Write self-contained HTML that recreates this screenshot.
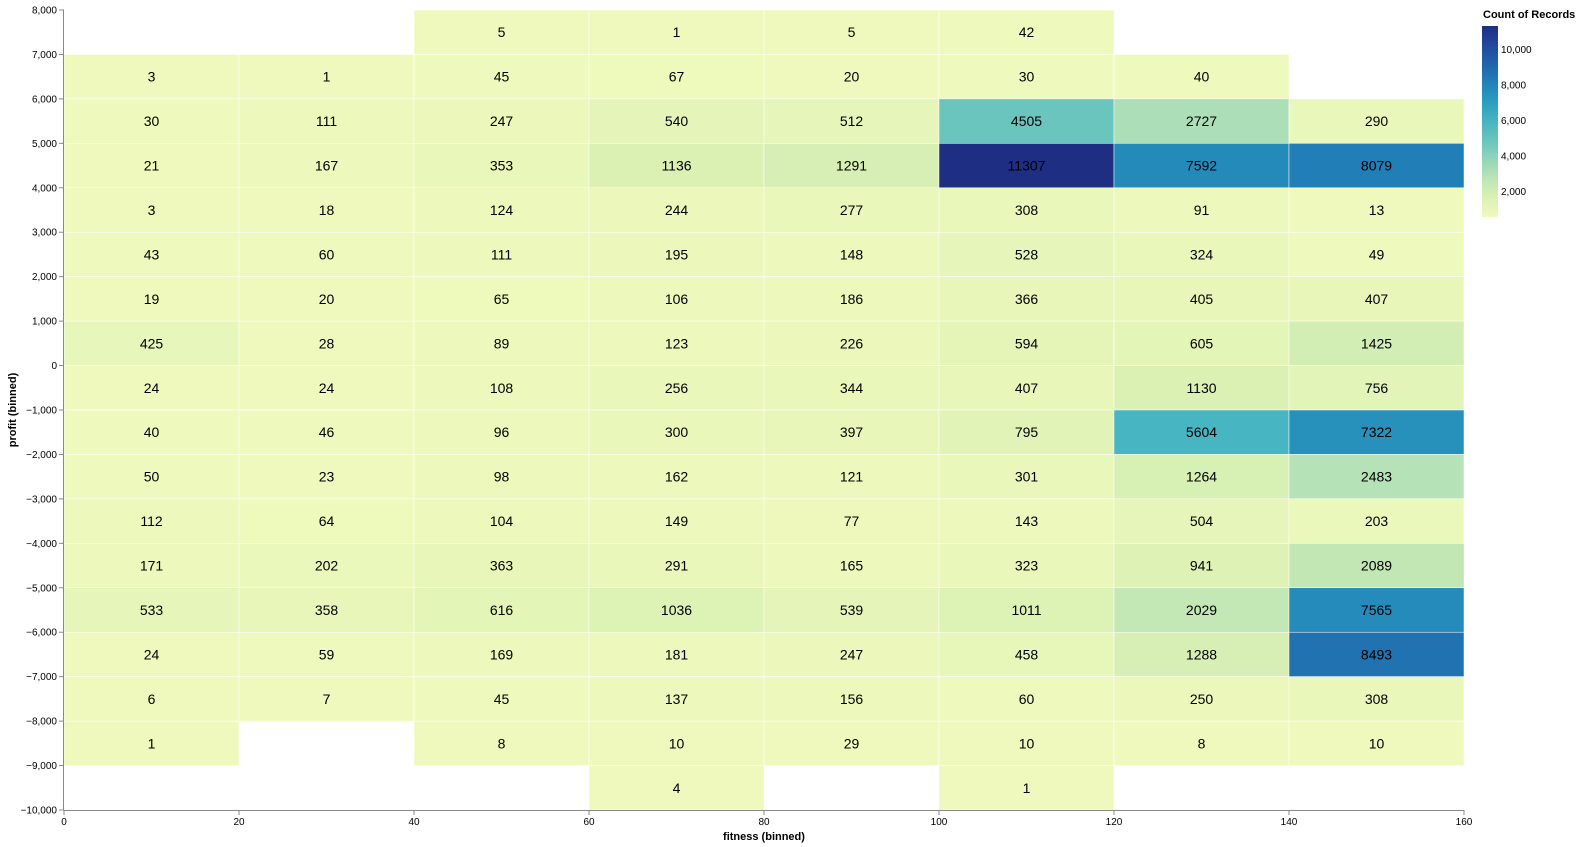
<!DOCTYPE html>
<html><head><meta charset="utf-8"><style>
html,body{margin:0;padding:0;background:#fff;overflow:hidden;width:1580px;height:847px;font-family:"Liberation Sans",sans-serif}
svg{display:block}
svg text{font-family:"Liberation Sans",sans-serif}
</style></head><body>
<svg id="chart" width="1580" height="847">
<defs><linearGradient id="lg" x1="0" y1="1" x2="0" y2="0"></linearGradient></defs>
<g id="cells"></g>
<g id="axes"></g>
<g id="legend"></g>
</svg>
<script>
const xBins = [0,20,40,60,80,100,120,140];
const yBins = [7000,6000,5000,4000,3000,2000,1000,0,-1000,-2000,-3000,-4000,-5000,-6000,-7000,-8000,-9000,-10000];
const counts = [
[null,null,5,1,5,42,null,null],
[3,1,45,67,20,30,40,null],
[30,111,247,540,512,4505,2727,290],
[21,167,353,1136,1291,11307,7592,8079],
[3,18,124,244,277,308,91,13],
[43,60,111,195,148,528,324,49],
[19,20,65,106,186,366,405,407],
[425,28,89,123,226,594,605,1425],
[24,24,108,256,344,407,1130,756],
[40,46,96,300,397,795,5604,7322],
[50,23,98,162,121,301,1264,2483],
[112,64,104,149,77,143,504,203],
[171,202,363,291,165,323,941,2089],
[533,358,616,1036,539,1011,2029,7565],
[24,59,169,181,247,458,1288,8493],
[6,7,45,137,156,60,250,308],
[1,null,8,10,29,10,8,10],
[null,null,null,4,null,1,null,null]
];
const xTicks = [0,20,40,60,80,100,120,140,160];
const yTicks = [8000,7000,6000,5000,4000,3000,2000,1000,0,-1000,-2000,-3000,-4000,-5000,-6000,-7000,-8000,-9000,-10000];
const legendTicks = [2000,4000,6000,8000,10000];

const NS="http://www.w3.org/2000/svg";
const X0=64,X1=1464,Y0=10,Y1=810;
const xs=v=>X0+(v-0)/160*(X1-X0);
const ys=v=>Y0+(8000-v)/18000*(Y1-Y0);
const stops=["#eff9bd","#dbf1b4","#bde5b5","#94d5b9","#69c5be","#45b4c2","#2c9ec0","#2182b8","#2163aa","#23479c","#1d2e83"];
let vals=counts.flat().filter(v=>v!=null);
const cmin=Math.min(...vals),cmax=Math.max(...vals);
function hex(h){return [1,3,5].map(i=>parseInt(h.substr(i,2),16));}
function color(v){let t=(v-cmin)/(cmax-cmin)*(stops.length-1);let i=Math.min(Math.floor(t),stops.length-2);let f=t-i;let a=hex(stops[i]),b=hex(stops[i+1]);return "rgb("+a.map((c,k)=>Math.round(c+(b[k]-c)*f)).join(",")+")";}
function el(tag,attrs,parent,txt){const e=document.createElementNS(NS,tag);for(const k in attrs)e.setAttribute(k,attrs[k]);if(txt!=null)e.textContent=txt;parent.appendChild(e);return e;}
const cells=document.getElementById("cells");
counts.forEach((row,ri)=>row.forEach((v,ci)=>{if(v==null)return;
 const x=xs(xBins[ci]),w=xs(xBins[ci]+20)-x,y=ys(yBins[ri]+1000),h=ys(yBins[ri])-y;
 const r=el("rect",{x:x,y:y,width:w,height:h,fill:color(v),stroke:"#fff","stroke-width":0.5},cells);
 
 
 const t=el("text",{x:x+w/2,y:y+h/2+5,"text-anchor":"middle","font-size":14,fill:"#000"},cells,String(v));
 
 
}));
const axes=document.getElementById("axes");
el("line",{x1:X0,y1:Y1+0.5,x2:X1,y2:Y1+0.5,stroke:"#888"},axes);
el("line",{x1:X0-0.5,y1:Y0,x2:X0-0.5,y2:Y1,stroke:"#888"},axes);
xTicks.forEach(v=>{const x=xs(v);el("line",{x1:x,y1:Y1,x2:x,y2:Y1+5,stroke:"#888"},axes);
 const t=el("text",{x:x,y:Y1+15,"text-anchor":"middle","font-size":10,fill:"#000"},axes,String(v));
 
 });
yTicks.forEach(v=>{const y=ys(v);el("line",{x1:X0-5,y1:y,x2:X0,y2:y,stroke:"#888"},axes);
 const t=el("text",{x:X0-7,y:y+3.5,"text-anchor":"end","font-size":10,fill:"#000"},axes,v.toLocaleString("en-US").replace("-","\u2212"));
 
 });
let xt=el("text",{x:(X0+X1)/2,y:840,"text-anchor":"middle","font-size":11,"font-weight":"bold"},axes,"fitness (binned)");


let yt=el("text",{x:0,y:0,transform:"translate(16,"+((Y0+Y1)/2)+") rotate(-90)","text-anchor":"middle","font-size":11,"font-weight":"bold"},axes,"profit (binned)");


const lg=document.getElementById("lg");
stops.forEach((c,i)=>el("stop",{offset:i/(stops.length-1),"stop-color":c},lg));
const leg=document.getElementById("legend");
const LT=26,LB=217;
const ly=v=>LT+(cmax-v)*0.01775;
let lt=el("text",{x:1483,y:18,"font-size":11,"font-weight":"bold"},leg,"Count of Records");


el("rect",{x:1482,y:LT,width:16,height:LB-LT,fill:"url(#lg)"},leg);
legendTicks.forEach(v=>{const t=el("text",{x:1501,y:ly(v)+4,"font-size":10},leg,v.toLocaleString("en-US"));
 
 });
</script>
</body></html>
